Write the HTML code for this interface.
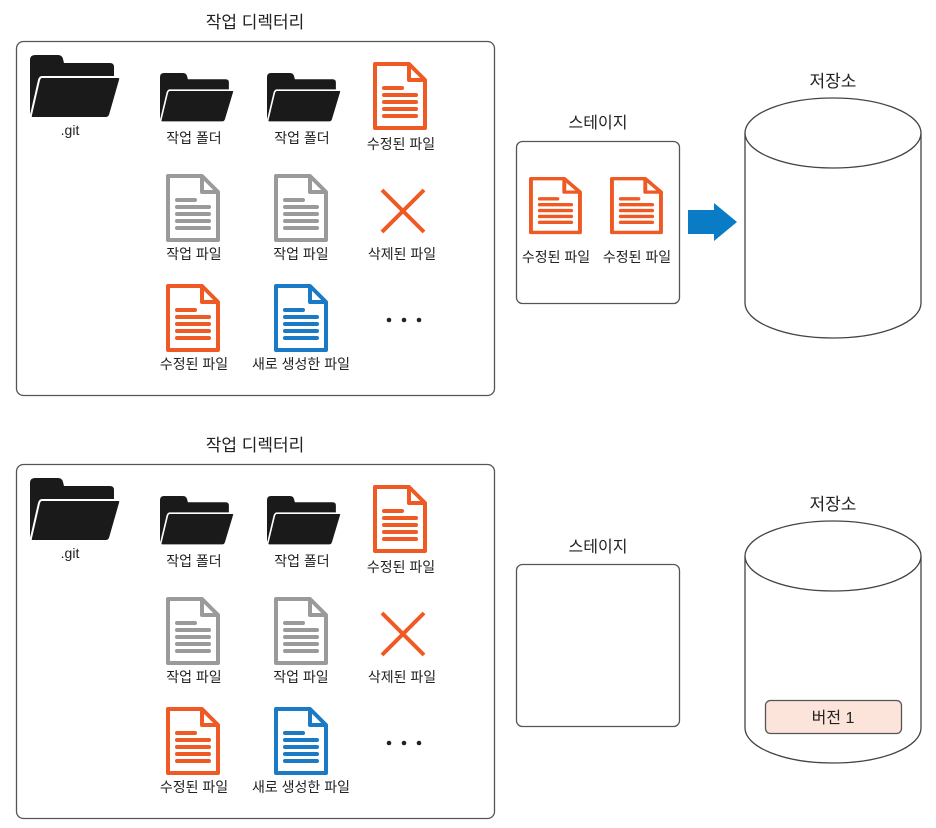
<!DOCTYPE html>
<html><head><meta charset="utf-8"><style>
html,body{margin:0;padding:0;background:#fff;}
svg{display:block;}
text{font-family:"Liberation Sans","Noto Sans CJK KR",sans-serif;fill:#222;}
</style></head><body>
<svg width="936" height="828" viewBox="0 0 936 828" xmlns="http://www.w3.org/2000/svg">
<defs>
 <g id="folder">
  <path d="M0,5 Q0,0 5,0 H28 Q32,0 33,4 L34,8 H80 Q84,8 84,12 V24 H10 L2,60 Q0,62 0,56 Z" fill="#1a1a1a"/>
  <path d="M12,22 H88 Q91,22 90,25 L80,60 Q79,63 76,63 H3 Q0,63 1,60 L9,25 Q10,22 12,22 Z" fill="#1a1a1a" stroke="#fff" stroke-width="2"/>
 </g>
 <g id="doc">
  <path d="M2,2 H36 L52,18 V66 H2 Z" fill="#fff" stroke-width="4" stroke-linejoin="round"/>
  <path d="M36,2 V18 H52" fill="none" stroke-width="4" stroke-linejoin="round"/>
  <g stroke-width="4" stroke-linecap="round">
   <line x1="11" y1="26" x2="29" y2="26"/>
   <line x1="11" y1="33" x2="43" y2="33"/>
   <line x1="11" y1="40" x2="43" y2="40"/>
   <line x1="11" y1="47" x2="43" y2="47"/>
   <line x1="11" y1="54" x2="43" y2="54"/>
  </g>
 </g>
 <g id="panel">
  <rect x="16.5" y="41.5" width="478" height="354" rx="7" fill="#fff" stroke="#555" stroke-width="1.3"/>
  <use href="#folder" transform="translate(30,55)"/>
  <use href="#folder" transform="translate(160,73) scale(0.82,0.78)"/>
  <use href="#folder" transform="translate(267,73) scale(0.82,0.78)"/>
  <use href="#doc" transform="translate(373,62)" stroke="#ef5a24"/>
  <use href="#doc" transform="translate(166,174)" stroke="#9a9a9a"/>
  <use href="#doc" transform="translate(274,174)" stroke="#9a9a9a"/>
  <g stroke="#ef5a24" stroke-width="4"><line x1="382" y1="190" x2="424" y2="232"/><line x1="424" y1="190" x2="382" y2="232"/></g>
  <use href="#doc" transform="translate(166,284)" stroke="#ef5a24"/>
  <use href="#doc" transform="translate(274,284)" stroke="#1a7ac6"/>
  <g fill="#222"><circle cx="389" cy="320" r="2.3"/><circle cx="404" cy="320" r="2.3"/><circle cx="419" cy="320" r="2.3"/></g>
  <g font-size="14" text-anchor="middle">
   <text x="70" y="135">.git</text>
   <text x="194" y="143">작업 폴더</text>
   <text x="302" y="143">작업 폴더</text>
   <text x="401" y="149">수정된 파일</text>
   <text x="194" y="259">작업 파일</text>
   <text x="301" y="259">작업 파일</text>
   <text x="402" y="259">삭제된 파일</text>
   <text x="194" y="369">수정된 파일</text>
   <text x="301" y="369">새로 생성한 파일</text>
  </g>
  <text x="255" y="28" font-size="17" text-anchor="middle">작업 디렉터리</text>
 </g>
</defs>

<use href="#panel"/>
<use href="#panel" transform="translate(0,423)"/>

<!-- top stage -->
<text x="598" y="128" font-size="16" text-anchor="middle">스테이지</text>
<rect x="516.5" y="141.5" width="163" height="162" rx="6" fill="#fff" stroke="#555" stroke-width="1.3"/>
<use href="#doc" transform="translate(529,177) scale(0.98,0.84)" stroke="#ef5a24"/>
<use href="#doc" transform="translate(610,177) scale(0.98,0.84)" stroke="#ef5a24"/>
<text x="556" y="262" font-size="14" text-anchor="middle">수정된 파일</text>
<text x="637" y="262" font-size="14" text-anchor="middle">수정된 파일</text>
<path d="M688,210 H714 V203 L737,222 L714,241 V234 H688 Z" fill="#0a7cc6"/>

<!-- top cylinder -->
<text x="833" y="87" font-size="17" text-anchor="middle">저장소</text>
<path d="M745,133 V303 A88,35 0 0 0 921,303 V133" fill="#fff" stroke="#444" stroke-width="1.3"/>
<ellipse cx="833" cy="133" rx="88" ry="35" fill="#fff" stroke="#444" stroke-width="1.3"/>

<!-- bottom stage -->
<text x="598" y="552" font-size="16" text-anchor="middle">스테이지</text>
<rect x="516.5" y="564.5" width="163" height="162" rx="6" fill="#fff" stroke="#555" stroke-width="1.3"/>

<!-- bottom cylinder -->
<text x="833" y="510" font-size="17" text-anchor="middle">저장소</text>
<path d="M745,556 V728 A88,35 0 0 0 921,728 V556" fill="#fff" stroke="#444" stroke-width="1.3"/>
<ellipse cx="833" cy="556" rx="88" ry="35" fill="#fff" stroke="#444" stroke-width="1.3"/>
<rect x="765.5" y="700.5" width="136" height="33" rx="5" fill="#fce4da" stroke="#555" stroke-width="1.3"/>
<text x="833" y="723" font-size="16" text-anchor="middle">버전 1</text>
</svg>
</body></html>
